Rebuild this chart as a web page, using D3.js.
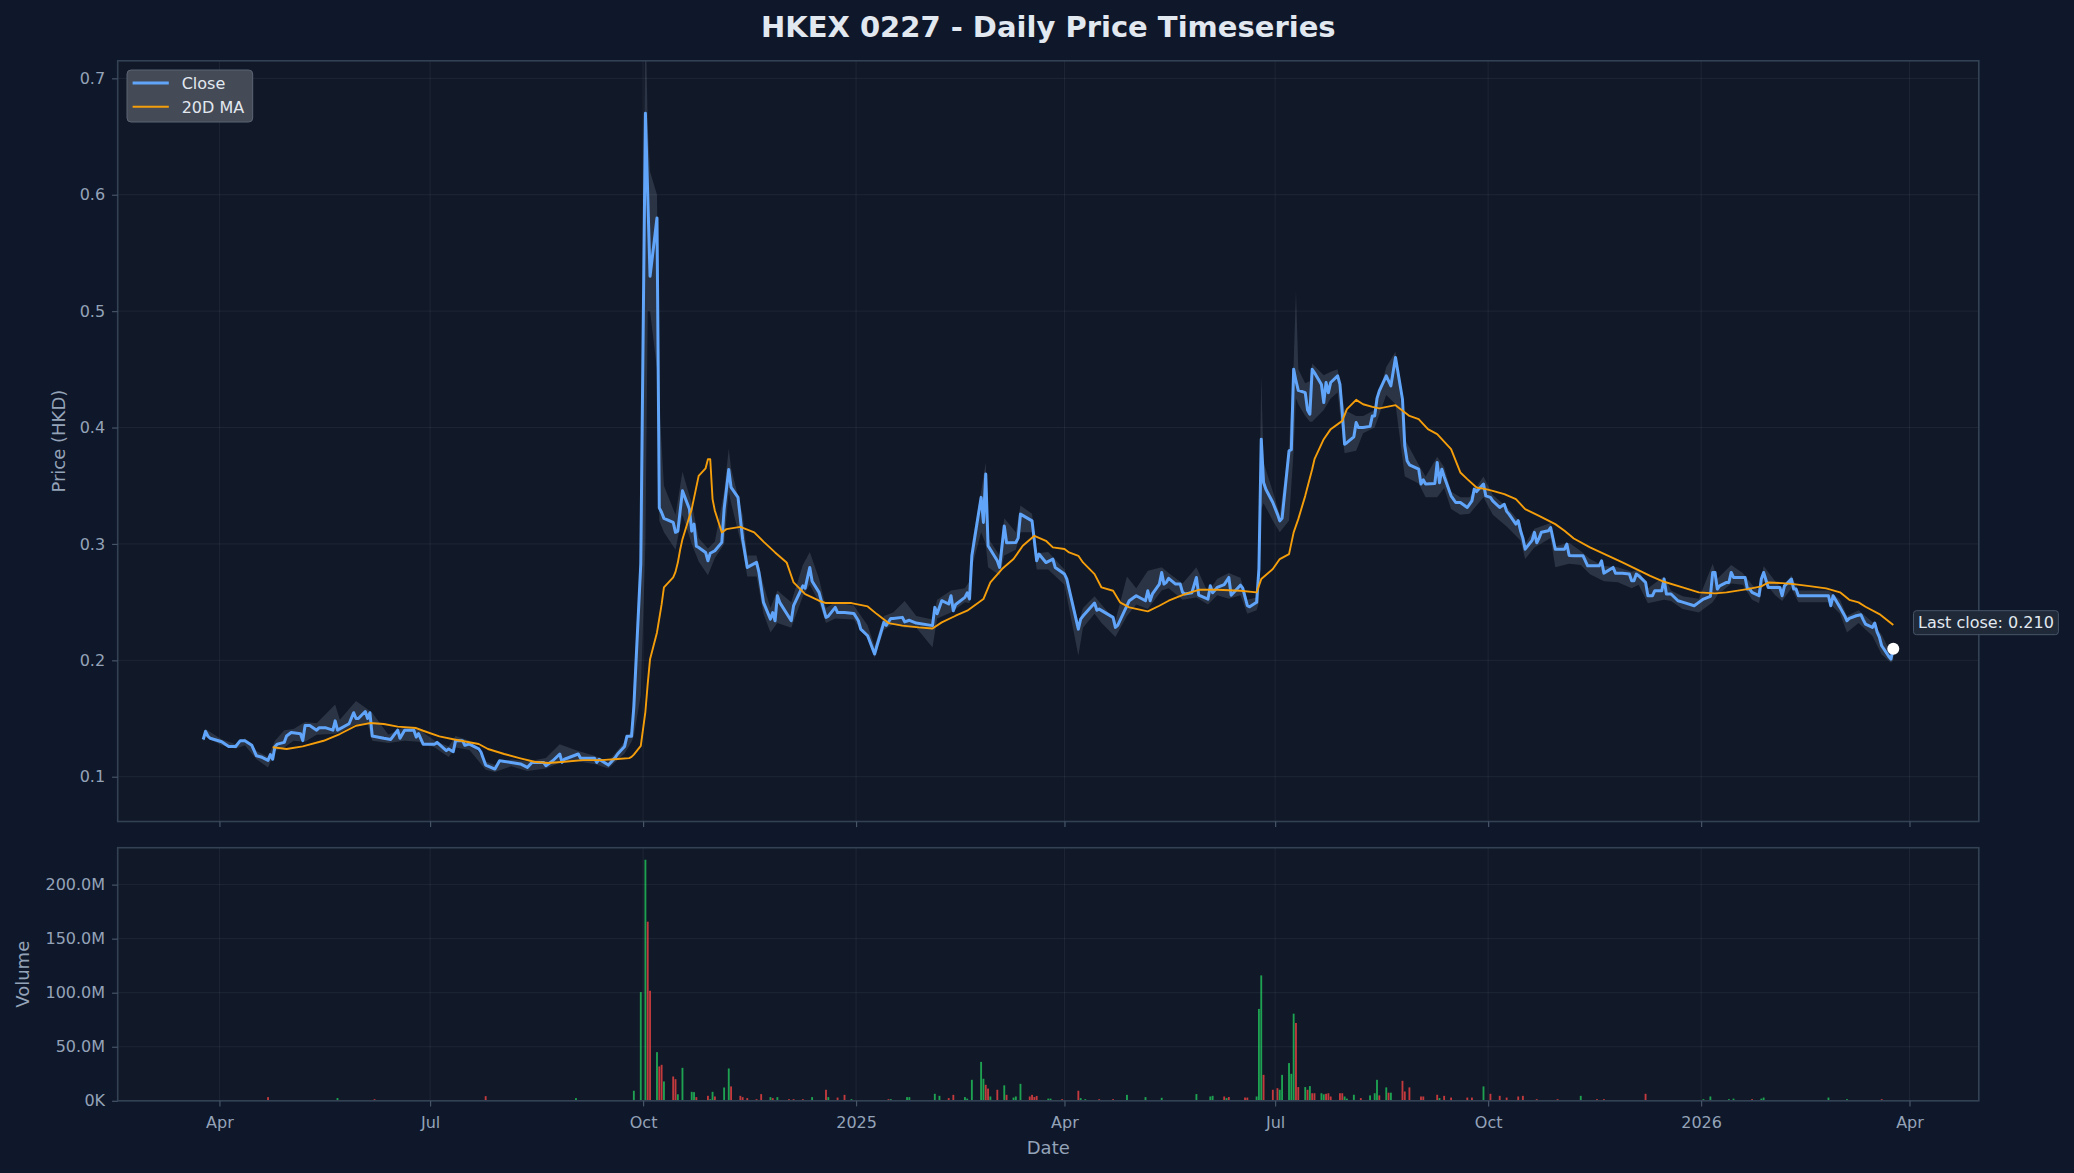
<!DOCTYPE html>
<html><head><meta charset="utf-8">
<script src="https://cdn.jsdelivr.net/npm/d3@7"></script>
<style>
html,body{margin:0;padding:0;background:#0f172a;}
svg{display:block;font-family:"DejaVu Sans",sans-serif;}
</style></head><body>
<svg id="chart" width="2074" height="1173"></svg>
<script>
// ---------------- DATA ----------------
const priceDates = ["2024-03-25","2024-03-26","2024-03-27","2024-03-28","2024-04-02","2024-04-05","2024-04-08","2024-04-10","2024-04-12","2024-04-15","2024-04-17","2024-04-19","2024-04-22","2024-04-23","2024-04-24","2024-04-25","2024-04-26","2024-04-29","2024-04-30","2024-05-02","2024-05-06","2024-05-07","2024-05-08","2024-05-10","2024-05-13","2024-05-14","2024-05-17","2024-05-20","2024-05-21","2024-05-22","2024-05-27","2024-05-29","2024-05-30","2024-05-31","2024-06-03","2024-06-04","2024-06-05","2024-06-06","2024-06-11","2024-06-14","2024-06-17","2024-06-18","2024-06-20","2024-06-24","2024-06-25","2024-06-26","2024-06-28","2024-07-03","2024-07-04","2024-07-08","2024-07-09","2024-07-11","2024-07-12","2024-07-15","2024-07-16","2024-07-18","2024-07-22","2024-07-23","2024-07-25","2024-07-29","2024-07-31","2024-08-05","2024-08-09","2024-08-12","2024-08-14","2024-08-19","2024-08-20","2024-08-23","2024-08-26","2024-08-27","2024-08-28","2024-09-03","2024-09-04","2024-09-10","2024-09-11","2024-09-12","2024-09-16","2024-09-19","2024-09-20","2024-09-23","2024-09-24","2024-09-26","2024-09-27","2024-09-30","2024-10-02","2024-10-03","2024-10-04","2024-10-07","2024-10-08","2024-10-09","2024-10-10","2024-10-14","2024-10-15","2024-10-16","2024-10-18","2024-10-21","2024-10-22","2024-10-23","2024-10-24","2024-10-25","2024-10-28","2024-10-29","2024-10-30","2024-11-01","2024-11-04","2024-11-05","2024-11-07","2024-11-08","2024-11-11","2024-11-13","2024-11-15","2024-11-19","2024-11-20","2024-11-22","2024-11-25","2024-11-26","2024-11-27","2024-11-28","2024-11-29","2024-12-04","2024-12-05","2024-12-09","2024-12-10","2024-12-12","2024-12-13","2024-12-16","2024-12-17","2024-12-19","2024-12-20","2024-12-23","2024-12-24","2024-12-27","2024-12-31","2025-01-02","2025-01-03","2025-01-06","2025-01-09","2025-01-10","2025-01-13","2025-01-14","2025-01-16","2025-01-17","2025-01-21","2025-01-22","2025-01-24","2025-01-27","2025-02-03","2025-02-04","2025-02-05","2025-02-07","2025-02-10","2025-02-11","2025-02-12","2025-02-13","2025-02-17","2025-02-18","2025-02-19","2025-02-20","2025-02-24","2025-02-25","2025-02-26","2025-02-27","2025-03-03","2025-03-04","2025-03-06","2025-03-07","2025-03-11","2025-03-12","2025-03-13","2025-03-18","2025-03-20","2025-03-21","2025-03-24","2025-03-27","2025-03-28","2025-04-01","2025-04-02","2025-04-07","2025-04-08","2025-04-09","2025-04-14","2025-04-15","2025-04-16","2025-04-22","2025-04-23","2025-04-24","2025-04-28","2025-04-29","2025-05-02","2025-05-06","2025-05-07","2025-05-08","2025-05-09","2025-05-12","2025-05-13","2025-05-14","2025-05-15","2025-05-16","2025-05-19","2025-05-21","2025-05-22","2025-05-23","2025-05-26","2025-05-28","2025-05-29","2025-06-02","2025-06-03","2025-06-04","2025-06-06","2025-06-09","2025-06-11","2025-06-12","2025-06-13","2025-06-16","2025-06-17","2025-06-19","2025-06-20","2025-06-23","2025-06-24","2025-06-25","2025-06-26","2025-06-27","2025-06-30","2025-07-02","2025-07-03","2025-07-04","2025-07-07","2025-07-08","2025-07-09","2025-07-10","2025-07-11","2025-07-14","2025-07-15","2025-07-16","2025-07-17","2025-07-18","2025-07-21","2025-07-22","2025-07-23","2025-07-24","2025-07-25","2025-07-28","2025-07-29","2025-07-30","2025-07-31","2025-08-01","2025-08-04","2025-08-05","2025-08-06","2025-08-08","2025-08-11","2025-08-12","2025-08-13","2025-08-14","2025-08-15","2025-08-18","2025-08-20","2025-08-22","2025-08-25","2025-08-26","2025-08-27","2025-08-28","2025-09-01","2025-09-02","2025-09-03","2025-09-04","2025-09-08","2025-09-09","2025-09-10","2025-09-11","2025-09-12","2025-09-15","2025-09-17","2025-09-19","2025-09-22","2025-09-24","2025-09-25","2025-09-26","2025-09-29","2025-09-30","2025-10-02","2025-10-03","2025-10-06","2025-10-08","2025-10-09","2025-10-10","2025-10-13","2025-10-14","2025-10-15","2025-10-16","2025-10-17","2025-10-20","2025-10-21","2025-10-22","2025-10-23","2025-10-24","2025-10-27","2025-10-28","2025-10-30","2025-10-31","2025-11-03","2025-11-04","2025-11-05","2025-11-07","2025-11-11","2025-11-13","2025-11-18","2025-11-19","2025-11-20","2025-11-24","2025-11-25","2025-11-28","2025-12-01","2025-12-02","2025-12-03","2025-12-04","2025-12-05","2025-12-08","2025-12-09","2025-12-11","2025-12-12","2025-12-15","2025-12-16","2025-12-17","2025-12-19","2025-12-22","2025-12-24","2025-12-29","2025-12-31","2026-01-02","2026-01-05","2026-01-06","2026-01-07","2026-01-08","2026-01-09","2026-01-12","2026-01-13","2026-01-14","2026-01-15","2026-01-20","2026-01-21","2026-01-22","2026-01-23","2026-01-26","2026-01-27","2026-01-28","2026-01-29","2026-01-30","2026-02-04","2026-02-05","2026-02-06","2026-02-09","2026-02-10","2026-02-11","2026-02-12","2026-02-25","2026-02-26","2026-02-27","2026-03-02","2026-03-04","2026-03-05","2026-03-06","2026-03-09","2026-03-11","2026-03-12","2026-03-13","2026-03-16","2026-03-17","2026-03-18","2026-03-19","2026-03-20","2026-03-23","2026-03-24","2026-03-25"];
const closes = [0.132,0.139,0.135,0.133,0.130,0.126,0.126,0.131,0.131,0.127,0.118,0.117,0.114,0.119,0.115,0.126,0.128,0.1295,0.135,0.138,0.137,0.131,0.144,0.144,0.140,0.142,0.142,0.140,0.148,0.140,0.1455,0.155,0.150,0.150,0.156,0.150,0.155,0.135,0.133,0.132,0.140,0.133,0.140,0.140,0.134,0.137,0.128,0.128,0.1295,0.1224,0.1238,0.1215,0.131,0.131,0.127,0.128,0.124,0.121,0.110,0.1066,0.1137,0.1123,0.111,0.108,0.1123,0.1123,0.1095,0.1137,0.1195,0.1123,0.115,0.1195,0.1158,0.1158,0.1123,0.115,0.110,0.1166,0.1195,0.126,0.1347,0.1347,0.160,0.283,0.670,0.600,0.530,0.580,0.331,0.327,0.322,0.3185,0.310,0.311,0.3456,0.330,0.311,0.317,0.298,0.297,0.2927,0.2855,0.292,0.2941,0.3013,0.330,0.364,0.3485,0.340,0.304,0.2798,0.2841,0.276,0.2498,0.2354,0.241,0.234,0.2555,0.2498,0.234,0.247,0.264,0.262,0.2798,0.268,0.2584,0.251,0.2369,0.238,0.2455,0.241,0.241,0.2403,0.234,0.2268,0.2211,0.2054,0.2125,0.2326,0.230,0.236,0.236,0.2369,0.233,0.2344,0.232,0.2298,0.2455,0.240,0.2512,0.2484,0.2555,0.2426,0.248,0.2541,0.258,0.2527,0.2898,0.340,0.3185,0.360,0.2984,0.2855,0.2798,0.3155,0.301,0.3013,0.305,0.3256,0.3198,0.2855,0.2913,0.284,0.287,0.2798,0.2741,0.270,0.2268,0.2354,0.238,0.2492,0.243,0.244,0.2369,0.2283,0.230,0.2469,0.2512,0.2555,0.2512,0.2598,0.2512,0.257,0.2655,0.2755,0.2655,0.267,0.2704,0.2655,0.2655,0.2584,0.257,0.258,0.2712,0.256,0.2526,0.264,0.258,0.2626,0.265,0.2712,0.256,0.258,0.2646,0.262,0.2469,0.246,0.2498,0.2784,0.390,0.3528,0.347,0.3356,0.3256,0.3198,0.322,0.380,0.381,0.450,0.440,0.432,0.430,0.415,0.4115,0.450,0.447,0.437,0.4215,0.4387,0.430,0.4387,0.4444,0.437,0.4129,0.3857,0.387,0.392,0.4043,0.400,0.400,0.401,0.410,0.410,0.425,0.4315,0.4444,0.4358,0.4602,0.4243,0.3843,0.3714,0.368,0.3642,0.3514,0.355,0.3514,0.352,0.370,0.3525,0.3642,0.358,0.3413,0.3356,0.3356,0.3313,0.337,0.3471,0.345,0.3515,0.3413,0.340,0.337,0.3313,0.334,0.328,0.3256,0.317,0.320,0.3113,0.305,0.2955,0.303,0.3099,0.301,0.305,0.310,0.3113,0.3141,0.2955,0.2955,0.2955,0.2998,0.2900,0.2898,0.2898,0.2812,0.2812,0.2855,0.2749,0.2798,0.2749,0.2749,0.2741,0.2684,0.2684,0.2741,0.2727,0.267,0.2555,0.2555,0.2598,0.2598,0.2698,0.257,0.257,0.2512,0.250,0.2469,0.2498,0.2526,0.255,0.2755,0.2755,0.2612,0.264,0.2669,0.2669,0.2755,0.2712,0.2712,0.2612,0.2612,0.2584,0.2555,0.2698,0.2755,0.269,0.2626,0.2626,0.2555,0.264,0.2698,0.2612,0.2612,0.2555,0.2555,0.2469,0.2555,0.2455,0.2383,0.234,0.236,0.2383,0.2392,0.235,0.2311,0.2283,0.232,0.2245,0.220,0.2125,0.2035,0.201,0.210];

const maDates = ["2024-04-24","2024-04-30","2024-05-07","2024-05-16","2024-05-23","2024-05-30","2024-06-05","2024-06-11","2024-06-17","2024-06-25","2024-06-28","2024-07-05","2024-07-12","2024-07-22","2024-07-26","2024-08-02","2024-08-09","2024-08-15","2024-08-21","2024-08-28","2024-09-05","2024-09-13","2024-09-20","2024-09-25","2024-09-26","2024-09-27","2024-09-30","2024-10-02","2024-10-03","2024-10-04","2024-10-07","2024-10-08","2024-10-09","2024-10-10","2024-10-14","2024-10-15","2024-10-16","2024-10-17","2024-10-18","2024-10-22","2024-10-25","2024-10-28","2024-10-29","2024-10-30","2024-10-31","2024-11-01","2024-11-04","2024-11-06","2024-11-12","2024-11-18","2024-11-22","2024-11-27","2024-12-02","2024-12-05","2024-12-10","2024-12-16","2024-12-19","2024-12-30","2025-01-06","2025-01-10","2025-01-15","2025-01-21","2025-01-28","2025-02-03","2025-02-07","2025-02-13","2025-02-18","2025-02-25","2025-02-28","2025-03-05","2025-03-10","2025-03-14","2025-03-19","2025-03-24","2025-03-27","2025-04-01","2025-04-03","2025-04-07","2025-04-09","2025-04-14","2025-04-17","2025-04-22","2025-04-25","2025-04-29","2025-05-07","2025-05-12","2025-05-16","2025-05-23","2025-05-29","2025-06-06","2025-06-16","2025-06-23","2025-06-25","2025-06-30","2025-07-03","2025-07-07","2025-07-09","2025-07-11","2025-07-14","2025-07-17","2025-07-18","2025-07-22","2025-07-25","2025-07-30","2025-08-01","2025-08-05","2025-08-08","2025-08-12","2025-08-15","2025-08-22","2025-08-28","2025-09-01","2025-09-05","2025-09-09","2025-09-15","2025-09-19","2025-09-22","2025-09-26","2025-09-30","2025-10-03","2025-10-08","2025-10-13","2025-10-17","2025-10-23","2025-10-30","2025-11-03","2025-11-07","2025-11-14","2025-11-21","2025-11-28","2025-12-04","2025-12-10","2025-12-16","2025-12-24","2025-12-31","2026-01-07","2026-01-12","2026-01-21","2026-01-27","2026-01-30","2026-02-05","2026-02-10","2026-02-16","2026-02-24","2026-03-02","2026-03-06","2026-03-10","2026-03-13","2026-03-19","2026-03-25"];
const maValues = [0.1253,0.1238,0.1261,0.1309,0.1367,0.1438,0.1461,0.1453,0.1430,0.1418,0.1395,0.1347,0.1318,0.1281,0.1238,0.1195,0.1158,0.1129,0.1118,0.1129,0.1143,0.1143,0.1152,0.1160,0.1170,0.1190,0.1265,0.1560,0.1800,0.2010,0.2240,0.2360,0.2480,0.2626,0.2712,0.2760,0.2840,0.2950,0.3041,0.3299,0.3585,0.3650,0.3728,0.3728,0.3385,0.3285,0.3099,0.3127,0.3147,0.3099,0.3020,0.2927,0.2841,0.2669,0.2569,0.2512,0.2492,0.2492,0.2463,0.2397,0.2320,0.2298,0.2283,0.2274,0.2326,0.2383,0.2426,0.2526,0.2669,0.2784,0.2870,0.2984,0.3070,0.3027,0.2970,0.2956,0.2927,0.2898,0.2841,0.2741,0.2626,0.2598,0.2498,0.2455,0.2421,0.2469,0.2512,0.2569,0.2606,0.2606,0.2598,0.2584,0.2698,0.2784,0.2870,0.2912,0.3099,0.3213,0.3413,0.3642,0.3728,0.3900,0.3986,0.4057,0.4158,0.4238,0.4200,0.4178,0.4164,0.4192,0.4100,0.4072,0.3986,0.3943,0.3814,0.3614,0.3557,0.3485,0.3471,0.3456,0.3428,0.3385,0.3299,0.3241,0.3170,0.3113,0.3047,0.2970,0.2905,0.2841,0.2784,0.2726,0.2675,0.2626,0.2584,0.2575,0.2584,0.2612,0.2635,0.2669,0.2663,0.2655,0.2640,0.2618,0.2584,0.2520,0.2498,0.2460,0.2397,0.2303];

const bandDates = ["2024-03-25","2024-03-26","2024-04-02","2024-04-08","2024-04-12","2024-04-17","2024-04-22","2024-04-25","2024-04-29","2024-05-03","2024-05-08","2024-05-13","2024-05-21","2024-05-23","2024-05-30","2024-06-04","2024-06-06","2024-06-13","2024-06-20","2024-06-26","2024-07-03","2024-07-09","2024-07-12","2024-07-18","2024-07-25","2024-07-29","2024-08-05","2024-08-12","2024-08-20","2024-08-26","2024-09-03","2024-09-10","2024-09-16","2024-09-23","2024-09-26","2024-09-27","2024-09-30","2024-10-02","2024-10-03","2024-10-04","2024-10-07","2024-10-08","2024-10-10","2024-10-15","2024-10-18","2024-10-22","2024-10-25","2024-10-29","2024-11-01","2024-11-05","2024-11-07","2024-11-08","2024-11-13","2024-11-15","2024-11-19","2024-11-22","2024-11-25","2024-11-28","2024-12-04","2024-12-09","2024-12-12","2024-12-16","2024-12-19","2024-12-23","2024-12-31","2025-01-06","2025-01-09","2025-01-13","2025-01-17","2025-01-22","2025-01-27","2025-02-03","2025-02-05","2025-02-11","2025-02-17","2025-02-19","2025-02-20","2025-02-24","2025-02-26","2025-02-27","2025-03-04","2025-03-06","2025-03-11","2025-03-13","2025-03-18","2025-03-20","2025-03-25","2025-04-01","2025-04-07","2025-04-09","2025-04-14","2025-04-17","2025-04-23","2025-04-28","2025-05-02","2025-05-07","2025-05-13","2025-05-16","2025-05-22","2025-05-28","2025-06-02","2025-06-06","2025-06-11","2025-06-16","2025-06-19","2025-06-23","2025-06-24","2025-06-25","2025-06-26","2025-06-30","2025-07-03","2025-07-07","2025-07-09","2025-07-10","2025-07-11","2025-07-14","2025-07-16","2025-07-17","2025-07-22","2025-07-25","2025-07-28","2025-07-31","2025-08-05","2025-08-08","2025-08-13","2025-08-18","2025-08-22","2025-08-26","2025-09-01","2025-09-04","2025-09-09","2025-09-12","2025-09-15","2025-09-19","2025-09-23","2025-09-29","2025-10-03","2025-10-09","2025-10-15","2025-10-17","2025-10-21","2025-10-28","2025-10-30","2025-11-05","2025-11-10","2025-11-14","2025-11-20","2025-11-26","2025-12-02","2025-12-05","2025-12-09","2025-12-16","2025-12-19","2025-12-24","2025-12-31","2026-01-06","2026-01-08","2026-01-14","2026-01-19","2026-01-23","2026-01-26","2026-01-28","2026-02-02","2026-02-05","2026-02-09","2026-02-12","2026-02-25","2026-03-02","2026-03-05","2026-03-10","2026-03-16","2026-03-20","2026-03-24","2026-03-25"];
const bandLow = [0.130,0.134,0.127,0.124,0.127,0.115,0.108,0.122,0.125,0.131,0.130,0.136,0.137,0.138,0.145,0.146,0.131,0.129,0.131,0.130,0.125,0.117,0.125,0.123,0.106,0.104,0.109,0.105,0.107,0.112,0.113,0.111,0.107,0.120,0.130,0.135,0.170,0.300,0.500,0.500,0.450,0.320,0.310,0.295,0.325,0.300,0.285,0.273,0.288,0.300,0.345,0.335,0.295,0.272,0.272,0.240,0.224,0.232,0.228,0.255,0.265,0.250,0.232,0.236,0.235,0.218,0.202,0.226,0.231,0.228,0.228,0.211,0.236,0.241,0.250,0.249,0.280,0.310,0.300,0.280,0.273,0.290,0.295,0.310,0.310,0.278,0.278,0.265,0.204,0.228,0.240,0.232,0.220,0.238,0.248,0.244,0.260,0.262,0.252,0.254,0.248,0.256,0.253,0.256,0.240,0.243,0.250,0.330,0.335,0.320,0.310,0.320,0.380,0.425,0.420,0.410,0.405,0.405,0.415,0.425,0.430,0.378,0.380,0.395,0.400,0.428,0.420,0.358,0.352,0.340,0.340,0.348,0.330,0.325,0.326,0.340,0.325,0.315,0.303,0.287,0.297,0.305,0.280,0.283,0.282,0.274,0.268,0.267,0.262,0.265,0.249,0.252,0.251,0.244,0.241,0.250,0.256,0.266,0.265,0.252,0.249,0.268,0.256,0.251,0.262,0.250,0.250,0.240,0.224,0.232,0.221,0.205,0.198,0.200];
const bandHigh = [0.134,0.141,0.132,0.128,0.133,0.122,0.117,0.131,0.140,0.141,0.147,0.146,0.162,0.149,0.165,0.158,0.155,0.136,0.143,0.141,0.131,0.126,0.135,0.131,0.113,0.110,0.115,0.113,0.116,0.128,0.122,0.118,0.113,0.130,0.140,0.180,0.300,0.760,0.660,0.620,0.600,0.420,0.350,0.325,0.362,0.335,0.305,0.296,0.302,0.345,0.382,0.365,0.325,0.290,0.290,0.265,0.245,0.260,0.250,0.282,0.293,0.270,0.245,0.250,0.247,0.230,0.212,0.238,0.241,0.251,0.238,0.235,0.252,0.260,0.262,0.268,0.300,0.345,0.370,0.305,0.290,0.322,0.310,0.333,0.326,0.292,0.293,0.278,0.232,0.245,0.255,0.248,0.234,0.272,0.262,0.277,0.280,0.275,0.266,0.280,0.258,0.270,0.275,0.271,0.252,0.254,0.300,0.445,0.370,0.345,0.325,0.385,0.455,0.518,0.450,0.438,0.440,0.455,0.445,0.448,0.450,0.415,0.410,0.410,0.415,0.452,0.465,0.390,0.368,0.358,0.375,0.366,0.345,0.340,0.340,0.358,0.342,0.332,0.318,0.300,0.313,0.318,0.298,0.301,0.294,0.287,0.281,0.280,0.276,0.278,0.262,0.272,0.260,0.255,0.253,0.283,0.270,0.282,0.275,0.265,0.260,0.281,0.268,0.262,0.273,0.260,0.260,0.252,0.238,0.243,0.233,0.222,0.206,0.212];

const volDates = ["2024-04-22","2024-05-22","2024-06-07","2024-07-25","2024-09-02","2024-09-27","2024-09-30","2024-10-02","2024-10-03","2024-10-04","2024-10-07","2024-10-08","2024-10-09","2024-10-10","2024-10-14","2024-10-15","2024-10-16","2024-10-18","2024-10-22","2024-10-23","2024-10-24","2024-10-29","2024-10-30","2024-10-31","2024-11-01","2024-11-05","2024-11-07","2024-11-08","2024-11-12","2024-11-13","2024-11-15","2024-11-19","2024-11-21","2024-11-25","2024-11-26","2024-11-28","2024-12-03","2024-12-05","2024-12-09","2024-12-13","2024-12-19","2024-12-20","2024-12-24","2024-12-27","2024-12-30","2025-01-15","2025-01-16","2025-01-23","2025-01-24","2025-02-04","2025-02-06","2025-02-10","2025-02-12","2025-02-17","2025-02-18","2025-02-20","2025-02-24","2025-02-25","2025-02-26","2025-02-27","2025-02-28","2025-03-03","2025-03-06","2025-03-07","2025-03-10","2025-03-11","2025-03-13","2025-03-17","2025-03-18","2025-03-19","2025-03-20","2025-03-25","2025-03-26","2025-03-31","2025-04-07","2025-04-08","2025-04-10","2025-04-16","2025-04-22","2025-04-28","2025-05-06","2025-05-13","2025-05-28","2025-06-03","2025-06-04","2025-06-09","2025-06-10","2025-06-11","2025-06-18","2025-06-19","2025-06-23","2025-06-24","2025-06-25","2025-06-26","2025-06-30","2025-07-02","2025-07-03","2025-07-04","2025-07-07","2025-07-08","2025-07-09","2025-07-10","2025-07-11","2025-07-14","2025-07-15","2025-07-16","2025-07-17","2025-07-18","2025-07-21","2025-07-22","2025-07-23","2025-07-24","2025-07-25","2025-07-29","2025-07-30","2025-07-31","2025-08-01","2025-08-04","2025-08-07","2025-08-11","2025-08-13","2025-08-14","2025-08-15","2025-08-18","2025-08-19","2025-08-20","2025-08-25","2025-08-26","2025-08-28","2025-09-02","2025-09-03","2025-09-09","2025-09-10","2025-09-12","2025-09-15","2025-09-22","2025-09-24","2025-09-29","2025-10-02","2025-10-06","2025-10-09","2025-10-14","2025-10-16","2025-10-22","2025-10-31","2025-11-10","2025-11-17","2025-11-20","2025-12-08","2026-01-02","2026-01-05","2026-01-13","2026-01-15","2026-01-23","2026-01-27","2026-01-28","2026-02-25","2026-03-05","2026-03-20"];
const volMillions = [3.4,2.5,1.5,4.3,2.5,9.3,100.6,223,165.7,101.8,45,31.8,33.3,17.9,22.5,20,6,30.5,8.3,8,3.4,4.6,1.5,8.3,4,12.3,29.9,13.3,4.6,3.4,2.5,1.5,6.2,3.4,2.5,3.4,1.5,1.5,1.5,3.4,10.2,3.4,3,5.5,1.5,1.5,1.5,3.4,3.4,6.5,4.6,2.5,5.5,3.4,2,19.4,36,20.4,14.8,11.3,4,10.2,14.3,5.5,3,4,15.7,4,5.5,3.5,4.5,2,2,1.5,9.3,2.5,1.5,1.5,1.5,5.5,3.4,2.8,6.2,4,4.6,4,2.5,3.5,3,3,4,85,116,24,10.2,11.7,10.2,24,34.9,25,80.6,72,12.7,12.7,10.2,13.6,7,7,7,6,6.5,7,4,7,7,4,2,5.6,2.5,5,7,19.4,5,12.4,7.5,7.5,18.5,8.6,12.4,4,4,5.6,2.5,4.6,3,3,3,13.3,6.5,4.6,3,4,4.6,1.5,1.5,4.6,1.5,1.5,6.5,1.5,4,1.5,2,1.5,2,3,3,1.5,1.5];
const volUp = [0,1,0,0,1,1,1,1,0,0,1,0,0,1,0,0,1,1,1,1,0,0,1,1,0,1,1,0,0,0,0,0,0,1,0,1,0,0,0,1,0,1,0,0,1,0,1,1,1,1,1,0,0,1,1,1,1,1,0,0,1,0,1,0,1,1,1,0,0,0,0,1,1,0,0,1,1,0,0,1,1,1,1,1,1,0,1,0,0,0,1,1,1,0,0,0,1,1,1,1,1,0,0,1,0,1,0,0,1,1,0,0,0,0,0,1,1,1,0,1,1,1,0,1,0,1,0,0,0,0,0,0,1,0,0,0,0,1,0,0,0,0,0,0,0,1,0,0,0,1,1,1,1,0,1,1,1,1,0];

const priceTicks = [0.1,0.2,0.3,0.4,0.5,0.6,0.7];
const volTicks = [0,50e6,100e6,150e6,200e6];
const xTickDates = ["2024-04-01","2024-07-01","2024-10-01","2025-01-01","2025-04-01","2025-07-01","2025-10-01","2026-01-01","2026-04-01"];
const xTickLabels = ["Apr","Jul","Oct","2025","Apr","Jul","Oct","2026","Apr"];
const titleText = "HKEX 0227 - Daily Price Timeseries";
const seriesNames = ["Close","20D MA"];

// ---------------- LAYOUT ----------------
const W = 2074, H = 1173;
const plotL = 117.7, plotR = 1978.8;
const priceT = 60.8, priceB = 821.5;
const volT = 847.7, volB = 1100.8;
const C = {fig:"#0f172a", ax:"#111827", spine:"#334155", tick:"#94a3b8", grid:"#94a3b8",
  close:"#60a5fa", ma:"#f59e0b", up:"#22c55e", down:"#ef4444", title:"#e2e8f0"};

const parse = d3.utcParse("%Y-%m-%d");
const DAY = 864e5;
const pDates = priceDates.map(parse);
const first = d3.min(pDates), last = d3.max(pDates);
const lo = +first - 0.4*DAY, hi = +last + 0.4*DAY;
const padX = (hi - lo) * 0.05;
const x = d3.scaleUtc().domain([new Date(lo - padX), new Date(hi + padX)]).range([plotL, plotR]);
const cMin = d3.min(closes), cMax = d3.max(closes), cR = cMax - cMin;
const y = d3.scaleLinear().domain([cMin - 0.08*cR, cMax + 0.08*cR]).range([priceB, priceT]);
const vols = volMillions.map(v => v*1e6);
const yv = d3.scaleLinear().domain([0, d3.max(vols)*1.05]).range([volB, volT]);

const svg = d3.select("#chart");
svg.append("rect").attr("width",W).attr("height",H).attr("fill",C.fig);
const defs = svg.append("defs");
defs.append("clipPath").attr("id","clipP").append("rect")
  .attr("x",plotL).attr("y",priceT).attr("width",plotR-plotL).attr("height",priceB-priceT);
defs.append("clipPath").attr("id","clipV").append("rect")
  .attr("x",plotL).attr("y",volT).attr("width",plotR-plotL).attr("height",volB-volT);

// panel backgrounds
[[priceT,priceB],[volT,volB]].forEach(([t,b]) => {
  svg.append("rect").attr("x",plotL).attr("y",t).attr("width",plotR-plotL).attr("height",b-t).attr("fill",C.ax);
});

const xTicks = xTickDates.map(parse);

// grids
function grid(yScale, ticks, t, b) {
  const g = svg.append("g").attr("stroke",C.grid).attr("stroke-opacity",0.1).attr("stroke-width",1);
  ticks.forEach(v => g.append("line").attr("x1",plotL).attr("x2",plotR).attr("y1",yScale(v)).attr("y2",yScale(v)));
  xTicks.forEach(d => g.append("line").attr("x1",x(d)).attr("x2",x(d)).attr("y1",t).attr("y2",b));
}
grid(y, priceTicks, priceT, priceB);
grid(yv, volTicks, volT, volB);

// price panel
const gp = svg.append("g").attr("clip-path","url(#clipP)");
const bandData = bandDates.map((d,i) => ({d:parse(d), lo:bandLow[i], hi:bandHigh[i]}));
gp.append("path").datum(bandData)
  .attr("d", d3.area().x(p => x(p.d)).y0(p => y(p.lo)).y1(p => y(p.hi)))
  .attr("fill","#94a3b8").attr("fill-opacity",0.2);
const closeData = pDates.map((d,i) => ({d, v:closes[i]}));
gp.append("path").datum(closeData)
  .attr("d", d3.line().x(p => x(p.d)).y(p => y(p.v)))
  .attr("fill","none").attr("stroke",C.close).attr("stroke-width",3).attr("stroke-linejoin","round");
const maData = maDates.map((d,i) => ({d:parse(d), v:maValues[i]}));
gp.append("path").datum(maData)
  .attr("d", d3.line().x(p => x(p.d)).y(p => y(p.v)))
  .attr("fill","none").attr("stroke",C.ma).attr("stroke-width",1.9).attr("stroke-linejoin","round");

// volume bars
const gv = svg.append("g").attr("clip-path","url(#clipV)");
const volData = volDates.map((d,i) => ({d:parse(d), v:vols[i], up:volUp[i]}));
gv.selectAll("rect").data(volData).join("rect")
  .attr("x", p => x(new Date(+p.d - 0.4*DAY)))
  .attr("width", p => x(new Date(+p.d + 0.4*DAY)) - x(new Date(+p.d - 0.4*DAY)))
  .attr("y", p => yv(p.v))
  .attr("height", p => yv(0) - yv(p.v))
  .attr("fill", p => p.up ? C.up : C.down).attr("fill-opacity",0.8);

// spines
[[priceT,priceB],[volT,volB]].forEach(([t,b]) => {
  svg.append("rect").attr("x",plotL).attr("y",t).attr("width",plotR-plotL).attr("height",b-t)
    .attr("fill","none").attr("stroke",C.spine).attr("stroke-width",1.6);
});

// axes
function styleAxis(g) {
  g.select(".domain").remove();
  g.selectAll(".tick line").attr("stroke","#475569").attr("stroke-width",1.2);
  g.selectAll(".tick text").attr("fill",C.tick).attr("font-size",16).attr("font-family","DejaVu Sans");
}
svg.append("g").attr("transform",`translate(${plotL},0)`)
  .call(d3.axisLeft(y).tickValues(priceTicks).tickFormat(d3.format(".1f")).tickSize(5.6).tickPadding(7))
  .call(styleAxis);
svg.append("g").attr("transform",`translate(${plotL},0)`)
  .call(d3.axisLeft(yv).tickValues(volTicks)
    .tickFormat(v => v >= 1e6 ? (v/1e6).toFixed(1)+"M" : (v/1e3).toFixed(0)+"K").tickSize(5.6).tickPadding(7))
  .call(styleAxis);
svg.append("g").attr("transform",`translate(0,${priceB})`)
  .call(d3.axisBottom(x).tickValues(xTicks).tickFormat("").tickSize(5.6))
  .call(styleAxis);
const xb = svg.append("g").attr("transform",`translate(0,${volB})`)
  .call(d3.axisBottom(x).tickValues(xTicks).tickFormat((d,i) => xTickLabels[i]).tickSize(5.6))
  .call(styleAxis);
xb.selectAll(".tick text").attr("dy",null).attr("y",27.5);

// labels
svg.append("text").attr("x",(plotL+plotR)/2).attr("y",37).attr("text-anchor","middle")
  .attr("fill",C.title).attr("font-size",29).attr("font-weight","bold").text(titleText);
svg.append("text").attr("x",(plotL+plotR)/2).attr("y",1153.5).attr("text-anchor","middle")
  .attr("fill",C.tick).attr("font-size",18).text("Date");
svg.append("text").attr("transform",`translate(64.5,${(priceT+priceB)/2}) rotate(-90)`).attr("text-anchor","middle")
  .attr("fill",C.tick).attr("font-size",18).text("Price (HKD)");
svg.append("text").attr("transform",`translate(29,${(volT+volB)/2}) rotate(-90)`).attr("text-anchor","middle")
  .attr("fill",C.tick).attr("font-size",18).text("Volume");

// legend
const lg = svg.append("g");
lg.append("rect").attr("x",127).attr("y",70).attr("width",125.7).attr("height",52).attr("rx",4)
  .attr("fill","#444a56").attr("stroke","#5b6474").attr("stroke-width",1);
[[C.close,3,83],[C.ma,2,106.7]].forEach(([c,w,yy],i) => {
  lg.append("line").attr("x1",132.6).attr("x2",168.8).attr("y1",yy).attr("y2",yy).attr("stroke",c).attr("stroke-width",w);
  lg.append("text").attr("x",181.7).attr("y",yy+5.8).attr("fill",C.title).attr("font-size",16).text(seriesNames[i]);
});

// last close marker + annotation
const lastClose = closes[closes.length-1];
const lx = x(last), ly = y(lastClose);
const ann = svg.append("g");
const at = ann.append("text").attr("x",lx+24.7).attr("y",ly-20.5).attr("fill",C.title).attr("font-size",16)
  .text("Last close: " + lastClose.toFixed(3));
const bb = at.node().getBBox();
ann.insert("rect","text").attr("x",bb.x-4.5).attr("y",bb.y-2.5).attr("width",bb.width+9).attr("height",bb.height+5)
  .attr("rx",3).attr("fill","#1f2937").attr("stroke","#475569").attr("stroke-width",1);
svg.append("circle").attr("cx",lx).attr("cy",ly).attr("r",6).attr("fill","#ffffff");
</script>
</body></html>
